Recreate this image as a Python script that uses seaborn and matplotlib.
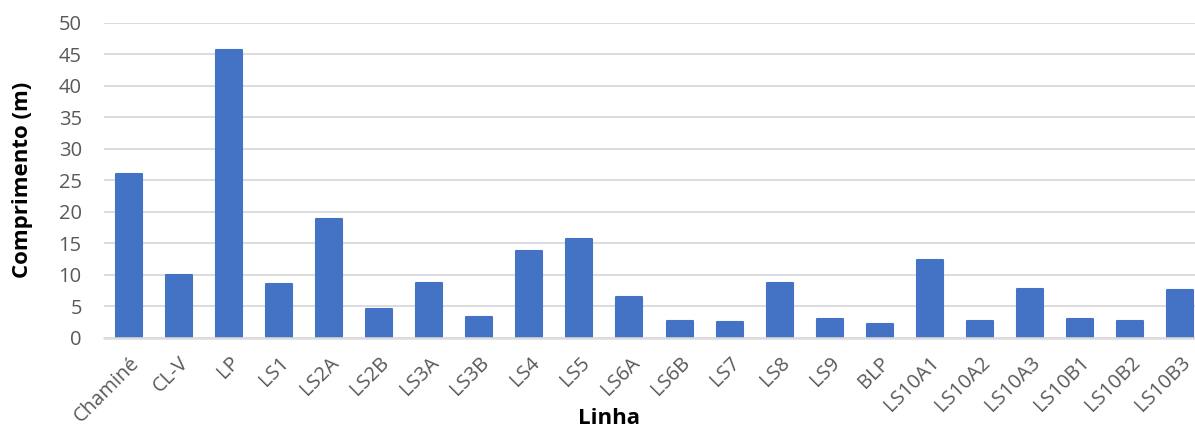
import matplotlib
matplotlib.use("Agg")
import matplotlib.pyplot as plt
import seaborn as sns
import pandas as pd

linhas = ["Chaminé", "CL-V", "LP", "LS1", "LS2A", "LS2B", "LS3A", "LS3B", "LS4", "LS5",
          "LS6A", "LS6B", "LS7", "LS8", "LS9", "BLP", "LS10A1", "LS10A2", "LS10A3",
          "LS10B1", "LS10B2", "LS10B3"]
comprimento = [26.0, 9.9, 45.7, 8.5, 18.8, 4.6, 8.6, 3.3, 13.7, 15.7,
               6.5, 2.7, 2.5, 8.6, 3.0, 2.2, 12.4, 2.6, 7.7,
               2.9, 2.7, 7.6]
y_ticks = [0, 5, 10, 15, 20, 25, 30, 35, 40, 45, 50]

df = pd.DataFrame({"Linha": linhas, "Comprimento": comprimento})

sns.set_style("white")
plt.rcParams["font.family"] = ["Open Sans", "DejaVu Sans"]

fig = plt.figure(figsize=(11.95, 4.28), dpi=100)
ax = fig.add_axes([104 / 1195, 1 - 337.5 / 428, 1 - 104 / 1195, (337.5 - 23) / 428])

sns.barplot(data=df, x="Linha", y="Comprimento", color="#4472C4", saturation=1,
            width=0.52, ax=ax, zorder=2)
for bar in ax.patches:
    bar.set_edgecolor("#4472C4")
    bar.set_linewidth(1.5)
    bar.set_joinstyle("round")
    bar.set_clip_on(False)

ax.set_ylim(0, 50)
ax.set_xlim(-0.5, 21.3)
ax.set_yticks(y_ticks)
ax.yaxis.grid(True, color="#d9d9d9", linewidth=1.3, zorder=0)
ax.set_axisbelow(True)
ax.axhline(0, color="#dcdcdc", linewidth=1.8, zorder=3, clip_on=False)

for s in ax.spines.values():
    s.set_visible(False)

ax.tick_params(axis="both", length=0, labelsize=14.5, labelcolor="#595959")
ax.tick_params(axis="y", pad=16)
ax.tick_params(axis="x", pad=11)
plt.setp(ax.get_xticklabels(), rotation=45, ha="right", rotation_mode="anchor")

ax.set_xlabel("Linha", fontsize=16, fontweight="bold", color="black", va="center")
ax.xaxis.set_label_coords((608.5 - 104) / 1091, (337.5 - 418) / 314.5)
ax.set_ylabel("Comprimento (m)", fontsize=16, fontweight="bold", color="black", va="center")
ax.yaxis.set_label_coords(-(104 - 23) / 1091, (337.5 - 180) / 314.5)

fig.savefig("out.png", dpi=100)
